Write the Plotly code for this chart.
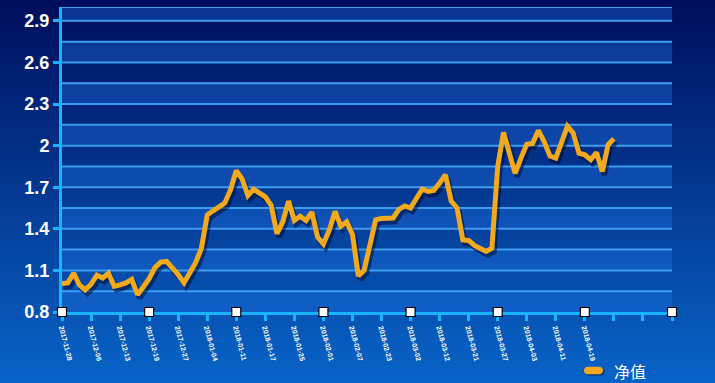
import plotly.graph_objects as go

# ---- data ----
tick_labels = ["2017-11-28", "2017-12-06", "2017-12-13", "2017-12-19", "2017-12-27",
               "2018-01-04", "2018-01-11", "2018-01-17", "2018-01-25", "2018-02-01",
               "2018-02-07", "2018-02-23", "2018-03-02", "2018-03-12", "2018-03-21",
               "2018-03-27", "2018-04-03", "2018-04-11", "2018-04-19", "", "", ""]
points_per_label = 5
nav_values = [1.005, 1.01, 1.08, 0.995, 0.96, 1.00, 1.065, 1.045, 1.08, 0.985,
              0.995, 1.01, 1.035, 0.925, 0.98, 1.04, 1.12, 1.16, 1.165, 1.12,
              1.07, 1.01, 1.09, 1.155, 1.26, 1.50, 1.53, 1.56, 1.585, 1.68,
              1.82, 1.76, 1.64, 1.685, 1.66, 1.63, 1.57, 1.365, 1.45, 1.60,
              1.46, 1.49, 1.46, 1.52, 1.34, 1.29, 1.39, 1.525, 1.42, 1.45,
              1.36, 1.06, 1.10, 1.30, 1.465, 1.475, 1.478, 1.478, 1.54, 1.565,
              1.55, 1.62, 1.687, 1.67, 1.677, 1.73, 1.79, 1.60, 1.55, 1.32,
              1.316, 1.28, 1.26, 1.237, 1.26, 1.85, 2.095, 1.95, 1.80, 1.91,
              2.01, 2.015, 2.11, 2.03, 1.925, 1.91, 2.02, 2.14, 2.09, 1.946,
              1.934, 1.898, 1.95, 1.814, 2.006, 2.05]
y_ticks = [0.8, 1.1, 1.4, 1.7, 2.0, 2.3, 2.6, 2.9]
y_tick_text = ["0.8", "1.1", "1.4", "1.7", "2", "2.3", "2.6", "2.9"]
series_name = "净值"

# ---- layout constants ----
W, H = 715, 383
ML, MR, MT, MB = 62, 43, 7, 71
PW, PH = W - ML - MR, H - MT - MB
Y_MIN, Y_MAX = 0.8, 3.0
X_MAX = (len(tick_labels) - 1) * points_per_label
AXIS_COLOR = "#19b4ff"
GRID_COLOR = "#3c9cf0"
LINE_COLOR = "#f2a91c"


def px_x(px):
    return (px - ML) / PW


def px_y(py):
    return (MT + PH - py) / PH


x_idx = list(range(len(nav_values)))
tick_vals = [i * points_per_label for i in range(len(tick_labels))]

shapes = []
# background gradient (whole figure)
N = 96
top_c, bot_c = (0, 14, 92), (8, 100, 200)
y_bottom = -MB / PH
y_span = H / PH
for k in range(N):
    t = (k + 0.5) / N
    c = tuple(round(bot_c[j] + (top_c[j] - bot_c[j]) * t) for j in range(3))
    shapes.append(dict(type="rect", xref="paper", yref="paper",
                       x0=-0.2, x1=1.2,
                       y0=y_bottom + y_span * k / N - 0.002 - (0.05 if k == 0 else 0),
                       y1=y_bottom + y_span * (k + 1) / N + 0.002 + (0.05 if k == N - 1 else 0),
                       fillcolor="rgb(%d,%d,%d)" % c, line_width=0, layer="below"))
# alternating bands
step = 0.15
k = 0
lo = Y_MIN
while lo < Y_MAX - 1e-9:
    hi = min(lo + step, Y_MAX)
    if k % 2 == 0:
        shapes.append(dict(type="rect", xref="paper", yref="y", x0=0, x1=1,
                           y0=lo, y1=hi, fillcolor="rgba(30,110,225,0.4)",
                           line_width=0, layer="below"))
    lo = round(lo + step, 4)
    k += 1
# grid lines
g = Y_MIN + step
lines = []
while g < Y_MAX - 1e-9:
    lines.append(round(g, 4))
    g += step
lines.append(Y_MAX)
for gv in lines:
    shapes.append(dict(type="line", xref="paper", yref="y", x0=0, x1=1,
                       y0=gv, y1=gv, line=dict(color=GRID_COLOR, width=2),
                       layer="below"))


# legend pill (drawn by hand so it does not push the margins)
def pill(x0, x1, yc, r, dx=0, dy=0):
    x0, x1, yc = x0 + dx, x1 + dx, yc + dy
    k = 0.55 * r
    pts = [("M", [(x0 + r, yc - r)]), ("L", [(x1 - r, yc - r)]),
           ("C", [(x1 - r + k, yc - r), (x1, yc - k), (x1, yc)]),
           ("C", [(x1, yc + k), (x1 - r + k, yc + r), (x1 - r, yc + r)]),
           ("L", [(x0 + r, yc + r)]),
           ("C", [(x0 + r - k, yc + r), (x0, yc + k), (x0, yc)]),
           ("C", [(x0, yc - k), (x0 + r - k, yc - r), (x0 + r, yc - r)])]
    s = ""
    for cmd, ps in pts:
        s += cmd + " ".join("%.5f,%.5f" % (px_x(a), px_y(b)) for a, b in ps)
    return s + " Z"


shapes.append(dict(type="path", xref="paper", yref="paper",
                   path=pill(584, 603, 370.5, 3.8, dx=1.5, dy=1.5),
                   fillcolor="rgba(0,10,50,0.45)", line_width=0, layer="above"))
shapes.append(dict(type="path", xref="paper", yref="paper",
                   path=pill(584, 603, 370.5, 3.8),
                   fillcolor=LINE_COLOR, line_width=0, layer="above"))

fig = go.Figure()
# shadow
fig.add_trace(go.Scatter(x=[x + 0.35 for x in x_idx], y=[v - 0.025 for v in nav_values],
                         mode="lines", line=dict(color="rgba(0,5,40,0.5)", width=5.5),
                         showlegend=False, hoverinfo="skip"))
fig.add_trace(go.Scatter(x=x_idx, y=nav_values, mode="lines", name=series_name,
                         line=dict(color=LINE_COLOR, width=5), showlegend=False))
# square markers on x axis
sq_x = list(range(0, X_MAX + 1, 3 * points_per_label))
fig.add_trace(go.Scatter(x=sq_x, y=[Y_MIN] * len(sq_x), mode="markers",
                         marker=dict(symbol="square", size=9, color="white",
                                     line=dict(color="black", width=1.2)),
                         cliponaxis=False, showlegend=False, hoverinfo="skip"))

fig.update_layout(
    width=W, height=H, autosize=False,
    margin=dict(l=ML, r=MR, t=MT, b=MB, pad=0),
    paper_bgcolor="#0862c4", plot_bgcolor="rgba(0,0,0,0)",
    shapes=shapes,
    showlegend=False,
    annotations=[dict(text=series_name, xref="paper", yref="paper",
                      x=px_x(612), y=px_y(371), xanchor="left", yanchor="middle",
                      showarrow=False,
                      font=dict(color="white", size=16, family="Noto Sans CJK SC"))],
    xaxis=dict(range=[0, X_MAX], tickmode="array", tickvals=tick_vals,
               ticktext=tick_labels, tickangle=75, showgrid=False, zeroline=False,
               showline=True, linecolor=AXIS_COLOR, linewidth=3, layer="below traces",
               ticks="outside", ticklen=6, tickwidth=3, tickcolor=AXIS_COLOR,
               automargin=False,
               tickfont=dict(color="white", size=7, family="Liberation Sans", weight="bold")),
    yaxis=dict(range=[Y_MIN, Y_MAX], tickmode="array", tickvals=y_ticks,
               ticktext=y_tick_text, showgrid=False, zeroline=False,
               showline=True, linecolor=AXIS_COLOR, linewidth=3, layer="below traces",
               ticks="outside", ticklen=6, tickwidth=3, tickcolor=AXIS_COLOR,
               automargin=False,
               tickfont=dict(color="white", size=18, family="Liberation Sans", weight="bold")),
)

fig.write_html("out.html", config={"displayModeBar": False},
               post_script="document.body.style.margin='0';")
